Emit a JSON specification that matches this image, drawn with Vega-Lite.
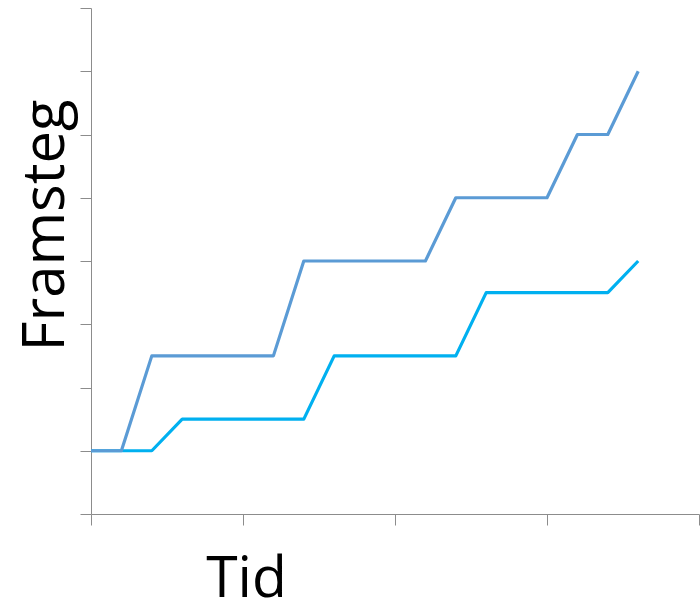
{
  "$schema": "https://vega.github.io/schema/vega-lite/v6.json",
  "width": 608,
  "height": 506,
  "autosize": {"type": "none"},
  "padding": {"left": 91, "top": 8, "right": 1, "bottom": 93},
  "background": "white",
  "config": {"view": {"stroke": null}},
  "data": {
    "values": [
      {"serie": "B", "ord": 1, "t": 0, "v": 1},
      {"serie": "B", "ord": 1, "t": 2, "v": 1},
      {"serie": "B", "ord": 1, "t": 3, "v": 1.5},
      {"serie": "B", "ord": 1, "t": 7, "v": 1.5},
      {"serie": "B", "ord": 1, "t": 8, "v": 2.5},
      {"serie": "B", "ord": 1, "t": 12, "v": 2.5},
      {"serie": "B", "ord": 1, "t": 13, "v": 3.5},
      {"serie": "B", "ord": 1, "t": 17, "v": 3.5},
      {"serie": "B", "ord": 1, "t": 18, "v": 4},
      {"serie": "A", "ord": 2, "t": 0, "v": 1},
      {"serie": "A", "ord": 2, "t": 1, "v": 1},
      {"serie": "A", "ord": 2, "t": 2, "v": 2.5},
      {"serie": "A", "ord": 2, "t": 6, "v": 2.5},
      {"serie": "A", "ord": 2, "t": 7, "v": 4},
      {"serie": "A", "ord": 2, "t": 11, "v": 4},
      {"serie": "A", "ord": 2, "t": 12, "v": 5},
      {"serie": "A", "ord": 2, "t": 15, "v": 5},
      {"serie": "A", "ord": 2, "t": 16, "v": 6},
      {"serie": "A", "ord": 2, "t": 17, "v": 6},
      {"serie": "A", "ord": 2, "t": 18, "v": 7}
    ]
  },
  "mark": {"type": "line", "strokeWidth": 3.2, "strokeJoin": "round"},
  "encoding": {
    "x": {
      "field": "t", "type": "quantitative",
      "scale": {"domain": [0, 20], "nice": false, "zero": false},
      "axis": {
        "title": "Tid", "values": [0, 5, 10, 15, 20], "labels": false, "grid": false,
        "domainColor": "#8c8c8c", "tickColor": "#8c8c8c", "tickSize": 11, "domainWidth": 1, "tickWidth": 1,
        "titleFont": "Open Sans", "titleFontSize": 57, "titleFontWeight": "normal", "titleColor": "black",
        "titleX": 155, "titleY": 82, "titleAlign": "center", "titleBaseline": "alphabetic"
      }
    },
    "y": {
      "field": "v", "type": "quantitative",
      "scale": {"domain": [0, 8], "nice": false, "zero": false},
      "axis": {
        "title": "Framsteg", "values": [0, 1, 2, 3, 4, 5, 6, 7, 8], "labels": false, "grid": false,
        "domainColor": "#8c8c8c", "tickColor": "#8c8c8c", "tickSize": 11, "domainWidth": 1, "tickWidth": 1,
        "titleFont": "Open Sans", "titleFontSize": 58, "titleFontWeight": "normal", "titleColor": "black",
        "titleX": -28, "titleY": 217, "titleAlign": "center", "titleBaseline": "alphabetic", "titleAngle": 270
      }
    },
    "color": {
      "field": "serie", "type": "nominal",
      "scale": {"domain": ["A", "B"], "range": ["#5B9BD5", "#00B0F0"]},
      "legend": null
    },
    "order": {"field": "t", "type": "quantitative"},
    "detail": {"field": "ord"}
  }
}
